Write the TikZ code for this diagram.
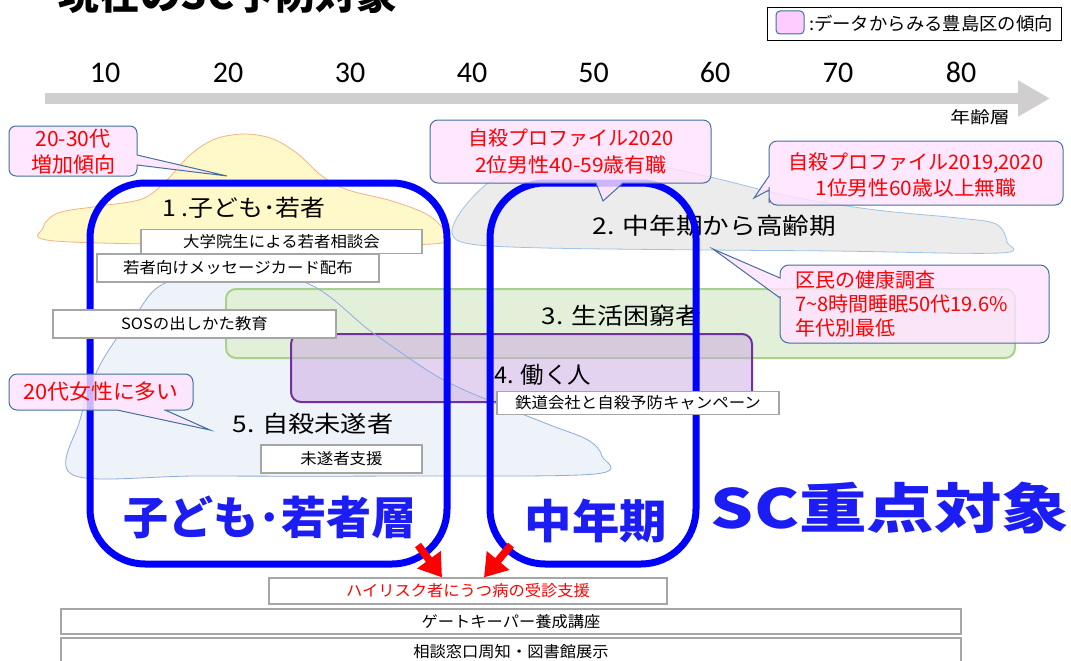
\documentclass[tikz,border=0pt]{standalone}
\usepackage{fontspec}
\usepackage{graphicx}
\setmainfont{Noto Sans CJK JP}
\newfontfamily\calfont{Carlito}
\usetikzlibrary{arrows.meta}
\definecolor{axgray}{HTML}{D0CECE}
\definecolor{yfill}{HTML}{FFF9C9}
\definecolor{yline}{HTML}{F4B183}
\definecolor{gfill}{HTML}{E9E9E9}
\definecolor{gline}{HTML}{9DC3E6}
\definecolor{bfill}{HTML}{EEF2F9}
\definecolor{bline}{HTML}{8FAADC}
\definecolor{grfill}{HTML}{E2F0D9}
\definecolor{grline}{HTML}{A9D18E}
\definecolor{pufill}{HTML}{C9A8E2}
\definecolor{puline}{HTML}{7030A0}
\definecolor{cofill}{HTML}{FFE3FF}
\definecolor{coline}{HTML}{41719C}
\definecolor{lgfill}{HTML}{FFCCFF}
\definecolor{boxline}{HTML}{A6A6A6}
\definecolor{fblue}{HTML}{0000FF}
\definecolor{tblue}{HTML}{1C1CF5}
\newcommand\hs[2]{\scalebox{#1}[1]{#2}}
\newcommand\fz[2]{\fontsize{#1}{#2}\selectfont}
\begin{document}
\begin{tikzpicture}[x=1pt,y=-1pt,
  blobline/.style={line width=0.8pt},
  callout/.style={fill=cofill, fill opacity=0.8, draw=coline, line width=1pt},
  ctext/.style={text=red, align=center, inner sep=0pt},
  wbox/.style={draw=boxline, line width=1.2pt, fill=white, inner sep=0pt, font=\fz{15.5}{18}},
  frame/.style={draw=fblue, line width=7pt, rounded corners=55pt, inner sep=0pt},
  cat/.style={font=\fz{23}{27}, inner sep=0pt},
  num/.style={font=\calfont\fz{30}{34}, inner sep=0pt},
  redarrow/.style={draw=red, line width=7.5pt, -{Triangle[length=22pt,width=28pt]}},
  bigtext/.style={text=tblue, inner sep=0pt},
]
\useasboundingbox (0,0) rectangle (1071,661);
\clip (0,0) rectangle (1071,661);
\fill[white] (0,0) rectangle (1071,661);

% title (cut at top)
\node[font=\fz{40}{48}\bfseries, inner sep=0pt] (title) at (228,-6) {\hs{1.02}{現在のSC予防対象}};

% legend
\node[draw=black, line width=0.8pt, minimum width=294pt, minimum height=33pt, inner sep=0pt] (leg) at (914,23.5) {};
\node[draw=coline, fill=lgfill, rounded corners=4pt, line width=1pt, minimum width=28pt, minimum height=23pt, inner sep=0pt] (legsq) at (790,22.5) {};
\node[font=\fz{18}{21}, inner sep=0pt] (legtx) at (931,24) {\hs{1.02}{:データからみる豊島区の傾向}};

% age axis
\coordinate (ax0) at (45,98.5);
\coordinate (ax1) at (1050,98.5);
\draw[axgray, line width=11pt, -{Triangle[length=32pt,width=34pt]}] (ax0) -- (ax1);
\node[num] (n10) at (105,72.5) {10};
\node[num] (n20) at (228,72.5) {20};
\node[num] (n30) at (350,72.5) {30};
\node[num] (n40) at (472,72.5) {40};
\node[num] (n50) at (593.5,72.5) {50};
\node[num] (n60) at (715,72.5) {60};
\node[num] (n70) at (838,72.5) {70};
\node[num] (n80) at (961,72.5) {80};
\node[font=\fz{16.5}{20}, inner sep=0pt] (agelbl) at (980,117) {\hs{1.2}{年齢層}};

% blobs
\draw[blobline, fill=yfill, draw=yline] plot[smooth cycle, tension=0.55] coordinates {
 (43,228) (58,213) (100,206) (142,199) (166,181) (190,155) (215,139) (245,134)
 (273,139) (298,154) (322,176) (348,190) (392,201) (428,215) (444,232) (432,244)
 (240,245) (55,241)};
\draw[blobline, fill=gfill, fill opacity=0.85, draw=gline] plot[smooth cycle, tension=0.55] coordinates {
 (452,233) (462,210) (488,183) (525,163) (557,155) (627,160) (710,177) (793,197)
 (876,210) (958,218) (996,224) (1007,242) (1000,253) (835,251) (710,250) (545,248) (470,244)};
\fill[bfill] plot[smooth cycle, tension=0.55] coordinates {
 (73,475) (80,420) (100,365) (135,315) (175,280) (298,280) (373,333) (440,378)
 (500,405) (550,425) (588,440) (602,456) (595,474) (400,476) (200,476)};

% rects 3 and 4
\node[draw=grline, fill=grfill, line width=2pt, rounded corners=10pt, minimum width=789pt, minimum height=69pt, inner sep=0pt] (green) at (620.5,323.5) {};
\node[draw=puline, fill=pufill, fill opacity=0.5, line width=2pt, rounded corners=10pt, minimum width=461pt, minimum height=68pt, inner sep=0pt] (purple) at (521.5,368) {};
\draw[blobline, draw=bline] plot[smooth cycle, tension=0.55] coordinates {
 (73,475) (80,420) (100,365) (135,315) (175,280) (298,280) (373,333) (440,378)
 (500,405) (550,425) (588,440) (602,456) (595,474) (400,476) (200,476)};

% category labels
\node[cat] (l1) at (244,208) {\hs{1.08}{1 .子ども･若者}};
\node[cat] (l2) at (714.5,226) {\hs{1.16}{2. 中年期から高齢期}};
\node[cat] (l3) at (621.5,316) {\hs{1.13}{3. 生活困窮者}};
\node[cat] (l4) at (542.5,375) {\hs{1.02}{4. 働く人}};
\node[cat] (l5) at (313,424) {\hs{1.14}{5. 自殺未遂者}};

% blue frames
\node[frame, minimum width=357pt, minimum height=381pt] (fy) at (268.5,373.5) {};
\node[frame, minimum width=206pt, minimum height=381pt] (fm) at (593,373.5) {};

% bottom boxes
\node[wbox, text=red, minimum width=398pt, minimum height=26pt] (hr) at (468,591) {\hs{1.05}{ハイリスク者にうつ病の受診支援}};
\node[wbox, minimum width=900pt, minimum height=25pt] (gk) at (511,621.5) {\hs{1.05}{ゲートキーパー養成講座}};
\node[wbox, minimum width=900pt, minimum height=28pt] (sd) at (511,652) {\hs{1.05}{相談窓口周知・図書館展示}};

% red arrows
\coordinate (a1s) at (418,545);
\coordinate (a2s) at (511,545);
\draw[redarrow] (a1s) -- ([xshift=-26pt]hr.north);
\draw[redarrow] (a2s) -- ([xshift=16pt]hr.north);

% callouts
\draw[callout] (9,150) [rounded corners=7pt] -- (9,126) -- (137,126) -- (137,148) [sharp corners] -- (137,155) -- (227,176) -- (137,165) -- (137,168) [rounded corners=7pt] -- (137,176) -- (9,176) -- cycle;
\node[ctext, font=\fz{21}{26}] (c1t) at (73,152) {20-30代\\増加傾向};

\draw[callout] (430,150) [rounded corners=8pt] -- (430,120) -- (711,120) -- (711,183) -- (630,183) [sharp corners] -- (623,183) -- (603,201) -- (596,183) -- (590,183) [rounded corners=8pt] -- (430,183) -- cycle;
\node[ctext, font=\fz{20}{27}] (c2t) at (571,151.5) {自殺プロファイル2020\\\hs{1.05}{2位男性40-59歳有職}};

\draw[callout] (900,141) [rounded corners=8pt] -- (1063,141) -- (1063,205) -- (769,205) -- (769,195) [sharp corners] -- (769,190) -- (754,198) -- (769,176) -- (769,170) [rounded corners=8pt] -- (769,141) -- cycle;
\node[ctext, font=\fz{20}{26}] (c3t) at (916,175) {自殺プロファイル2019,2020\\\hs{1.04}{1位男性60歳以上無職}};

\draw[callout] (900,265) [rounded corners=9pt] -- (1049,265) -- (1049,343) -- (780,343) -- (780,305) [sharp corners] -- (780,298) -- (713,249) -- (780,278) -- (780,276) [rounded corners=9pt] -- (780,265) -- cycle;
\node[ctext, align=left, anchor=west, font=\fz{20}{24}] (c4t) at (795,304) {区民の健康調査\\7\textasciitilde8時間睡眠50代19.6\%\\年代別最低};

\draw[callout] (9,390) [rounded corners=8pt] -- (9,374) -- (193,374) -- (193,410) -- (172,410) [sharp corners] -- (165,410) -- (210,430) -- (117,410) -- (110,410) [rounded corners=8pt] -- (9,410) -- cycle;
\node[ctext, font=\fz{21}{25}] (c5t) at (101,392) {\hs{1.04}{20代女性に多い}};

% white boxes
\node[wbox, minimum width=281pt, minimum height=24pt] (b1) at (281.5,241.5) {\hs{1.06}{大学院生による若者相談会}};
\node[wbox, minimum width=282pt, minimum height=28pt] (b2) at (238,268) {\hs{1.06}{若者向けメッセージカード配布}};
\node[wbox, minimum width=283pt, minimum height=28pt] (b3) at (194.5,324) {\hs{1.06}{SOSの出しかた教育}};
\node[wbox, minimum width=161pt, minimum height=28pt] (b4) at (341.5,459) {\hs{1.06}{未遂者支援}};
\node[wbox, minimum width=282pt, minimum height=23pt] (b5) at (638,403) {\hs{1.06}{鉄道会社と自殺予防キャンペーン}};

% big blue texts
\node[bigtext, font=\bfseries\fz{45}{54}] (t1) at (270,517) {子ども･若者層};
\node[bigtext, font=\bfseries\fz{46}{55}] (t2) at (596,521) {\hs{1.03}{中年期}};
\node[bigtext, font=\bfseries\fz{54}{64}] (t3) at (890,508) {\hs{1.25}{SC重点対象}};
\end{tikzpicture}
\end{document}
